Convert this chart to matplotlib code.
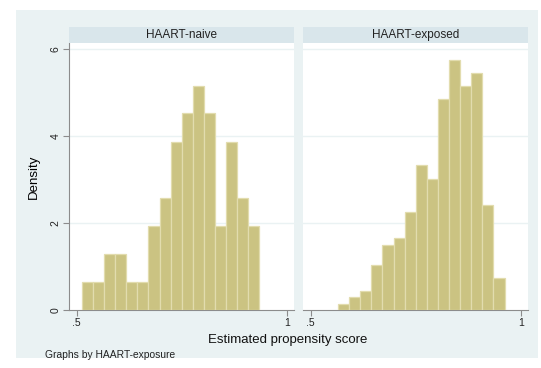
import matplotlib.pyplot as plt
import numpy as np

plt.rcParams['font.family'] = ['Liberation Sans', 'DejaVu Sans']

# histogram densities by exposure group (shared bin grid)
bin_start = 0.5125
bin_width = 0.0264
naive_first_bin = 0
naive_density = [0.64, 0.64, 1.29, 1.29, 0.64, 0.64, 1.93, 2.58,
                 3.87, 4.52, 5.16, 4.52, 1.93, 3.87, 2.58, 1.93]
exposed_first_bin = 2
exposed_density = [0.13, 0.29, 0.44, 1.04, 1.50, 1.65, 2.25, 3.33,
                   3.02, 4.85, 5.75, 5.14, 5.45, 2.41, 0.74]
panel_titles = ["HAART-naive", "HAART-exposed"]
y_ticks = [0, 2, 4, 6]
x_ticks = [0.5, 1.0]
x_tick_labels = [".5", "1"]

W, H = 541, 368
bg = '#EAF2F3'
strip_col = '#D9E6EB'
bar_face = '#CBC382'
bar_edge = '#E2DCAE'
axis_col = '#8C8C8C'

fig = plt.figure(figsize=(W / 100, H / 100), dpi=100)
fig.patch.set_facecolor('white')

# graph region background
back = fig.add_axes([16 / W, 1 - 358 / H, (538 - 16) / W, (358 - 10) / H], zorder=-10)
back.set_facecolor(bg)
back.axis('off')
back.add_patch(plt.Rectangle((0, 0), 1, 1, transform=back.transAxes,
                             facecolor=bg, edgecolor='none'))

panels = [(69, 294), (303, 528)]
data = [(naive_first_bin, naive_density), (exposed_first_bin, exposed_density)]
plot_top, plot_bot = 43, 310
strip_top = 27

for i, ((x0, x1), (first, dens)) in enumerate(zip(panels, data)):
    ax = fig.add_axes([x0 / W, 1 - plot_bot / H, (x1 - x0) / W, (plot_bot - plot_top) / H])
    ax.set_facecolor('white')
    lefts = bin_start + bin_width * (first + np.arange(len(dens)))
    ax.bar(lefts, dens, width=bin_width, align='edge', color=bar_face,
           edgecolor=bar_edge, linewidth=0.9, zorder=3)
    for yv in y_ticks[1:]:
        ax.axhline(yv, color=bg, linewidth=1.0, zorder=1)
    ax.set_xlim(0.482, 1.017)
    ax.set_ylim(0, 6.14)
    ax.set_xticks(x_ticks)
    ax.set_xticklabels(x_tick_labels, fontsize=7.5)
    for s in ['top', 'right']:
        ax.spines[s].set_visible(False)
    ax.spines['bottom'].set_color(axis_col)
    ax.spines['bottom'].set_linewidth(0.8)
    ax.tick_params(axis='x', colors=axis_col, length=4, width=0.8, pad=2,
                   labelcolor='#222222')
    if i == 0:
        ax.spines['left'].set_color(axis_col)
        ax.spines['left'].set_linewidth(0.8)
        ax.set_yticks(y_ticks)
        ax.set_yticklabels([str(t) for t in y_ticks], fontsize=7.5, rotation=90,
                           va='center')
        ax.tick_params(axis='y', colors=axis_col, length=4, width=0.8, pad=2,
                       labelcolor='#222222')
        ax.set_ylabel("Density", fontsize=9.5, labelpad=8)
    else:
        ax.spines['left'].set_visible(False)
        ax.set_yticks([])

    # panel title strip
    sx = fig.add_axes([x0 / W, 1 - plot_top / H, (x1 - x0) / W, (plot_top - strip_top) / H])
    sx.set_facecolor(strip_col)
    for s in sx.spines.values():
        s.set_visible(False)
    sx.set_xticks([])
    sx.set_yticks([])
    sx.text(0.5, 0.5, panel_titles[i], ha='center', va='center', fontsize=8.5,
            color='#222222', transform=sx.transAxes)

fig.text(288 / W, 1 - 340 / H, "Estimated propensity score",
         ha='center', va='center', fontsize=9.5, color='#111111')
fig.text(45 / W, 1 - 355 / H, "Graphs by HAART-exposure", ha='left', va='center',
         fontsize=7.4, color='#222222')

fig.savefig('out.png', dpi=100, facecolor='white')
